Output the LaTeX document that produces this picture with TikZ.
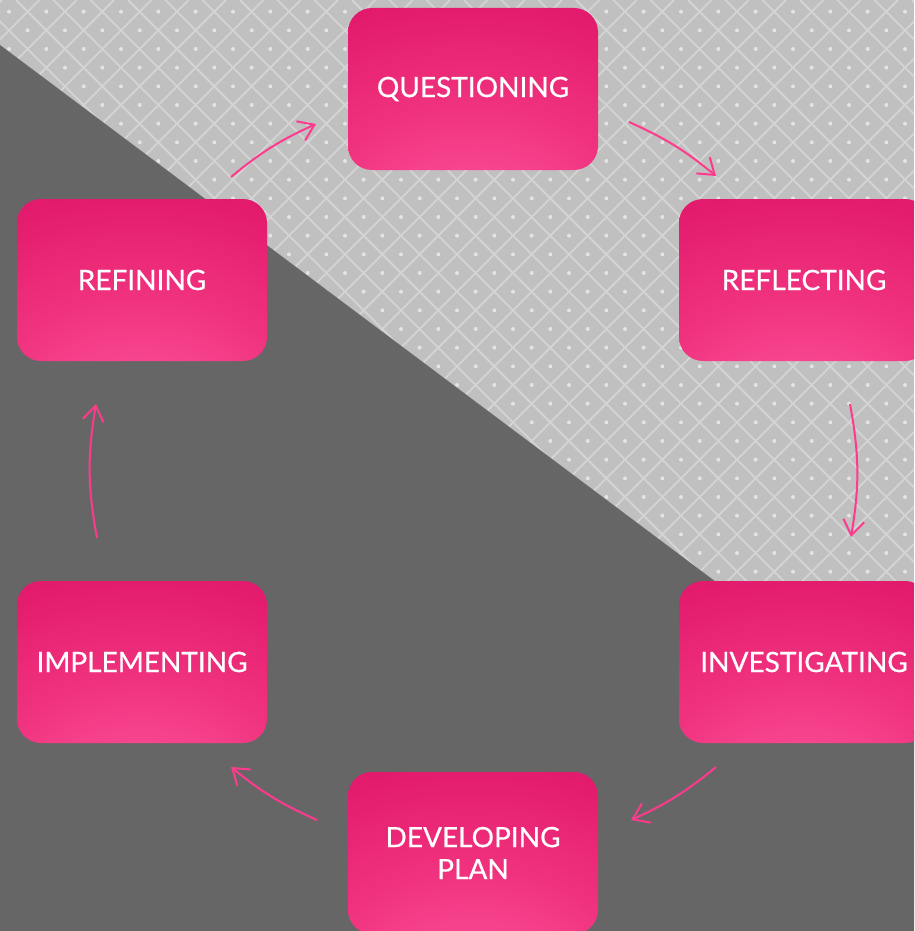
\documentclass[tikz,border=0pt]{standalone}
\usepackage{fontspec}
\setmainfont{Lato}
\newfontfamily\labelfont{Lato}[FakeBold=0.5]
\usetikzlibrary{arrows.meta}
\definecolor{bglight}{RGB}{192,192,192}
\definecolor{bgline}{RGB}{212,212,212}
\definecolor{bgdot}{RGB}{228,228,228}
\definecolor{bgdark}{RGB}{102,102,102}
\definecolor{arrpink}{RGB}{255,58,140}
\definecolor{pk0}{RGB}{255,100,165}
\definecolor{pk1}{RGB}{250,75,148}
\definecolor{pk2}{RGB}{240,50,126}
\definecolor{pk3}{RGB}{228,28,110}
\definecolor{pk4}{RGB}{222,18,103}
\definecolor{pk5}{RGB}{215,10,97}
\definecolor{pk6}{RGB}{210,6,94}
\pgfdeclareradialshading{boxshade}{\pgfpoint{0bp}{-50bp}}{color(0bp)=(pk0); color(12bp)=(pk1); color(30bp)=(pk2); color(50bp)=(pk3); color(65bp)=(pk4); color(80bp)=(pk5); color(100bp)=(pk6)}
\tikzset{
  stepbox/.style={rounded corners=24pt, minimum width=250pt, minimum height=162pt,
    shading=boxshade, text=white, font=\labelfont\fontsize{28}{32}\selectfont, align=center, inner sep=0pt},
  connector/.style={draw=arrpink, line width=2pt, -{Straight Barb[length=15pt,width=21pt,line width=2pt]}},
  latline/.style={bgline, line width=1.8pt},
}
\begin{document}
\begin{tikzpicture}[x=1pt,y=-1pt]
\useasboundingbox (0,0) rectangle (914,931);
\clip (0,0) rectangle (914,931);
% background lattice
\fill[bglight] (0,0) rectangle (914,931);
\foreach \k in {0,...,50} {
  \draw[latline] ({2+37.333*\k},0) -- ({2+37.333*\k-931},931);
}
\foreach \k in {-25,...,25} {
  \draw[latline] ({16+37.333*\k},0) -- ({16+37.333*\k+931},931);
}
\foreach \a in {-17,...,8} {
  \foreach \b in {-3,...,22} {
    \fill[bgdot] ({625+37.333*\a},{105+37.333*\b}) circle (2);
    \fill[bgdot] ({643.667+37.333*\a},{123.667+37.333*\b}) circle (2);
  }
}
\fill[bgdark] (0,45) -- (914,730.5) -- (914,931) -- (0,931) -- cycle;
% boxes
\node[stepbox] (q) at (473,89) {QUESTIONING};
\node[stepbox] (rl) at (804,280) {REFLECTING};
\node[stepbox] (iv) at (804,662) {INVESTIGATING};
\node[stepbox] (dp) at (473,853) {DEVELOPING\\PLAN};
\node[stepbox] (im) at (142,662) {IMPLEMENTING};
\node[stepbox] (rf) at (142,280) {REFINING};
% connector end points
\coordinate (a1s) at (231,177); \coordinate (a1e) at (316,124);
\coordinate (a2s) at (629,122); \coordinate (a2e) at (716,176);
\coordinate (a3s) at (850,404); \coordinate (a3e) at (851,537);
\coordinate (a4s) at (716,767); \coordinate (a4e) at (631,820);
\coordinate (a5s) at (317,820); \coordinate (a5e) at (231,767);
\coordinate (a6s) at (97,538);  \coordinate (a6e) at (96,404);
\draw[connector] (a1s) to[bend left=7.6] (a1e);
\draw[connector] (a2s) to[bend left=7.7] (a2e);
\draw[connector] (a3s) to[bend left=10] (a3e);
\draw[connector] (a4s) to[bend left=7.5] (a4e);
\draw[connector] (a5s) to[bend left=7.6] (a5e);
\draw[connector] (a6s) to[bend left=10] (a6e);
\end{tikzpicture}
\end{document}
